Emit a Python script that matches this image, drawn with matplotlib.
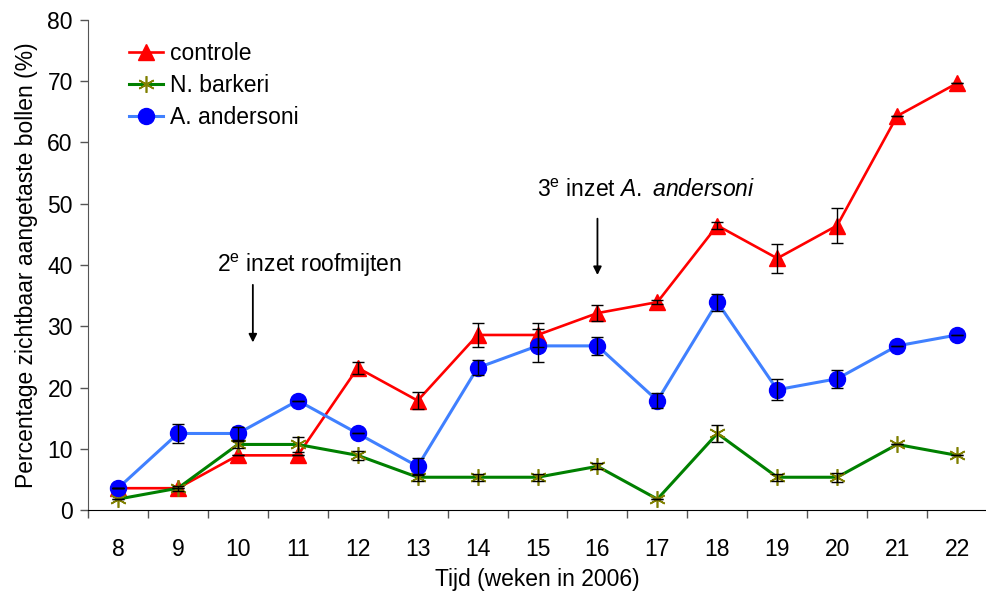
import numpy as np
import matplotlib.pyplot as plt

plt.rcParams['font.family'] = ['Liberation Sans', 'DejaVu Sans']
plt.rcParams['mathtext.fontset'] = 'custom'
plt.rcParams['mathtext.rm'] = 'Liberation Sans'
plt.rcParams['mathtext.it'] = 'Liberation Sans:italic'

# weeks and % visibly affected bulbs
weken = [8, 9, 10, 11, 12, 13, 14, 15, 16, 17, 18, 19, 20, 21, 22]
controle = [3.57, 3.57, 8.93, 8.93, 23.21, 17.86, 28.57, 28.57, 32.14, 33.93, 46.43, 41.07, 46.43, 64.29, 69.64]
controle_err = [0, 0, 0, 0, 1.0, 1.4, 2.0, 2.0, 1.3, 0.3, 0.6, 2.4, 2.9, 0, 0]
barkeri = [1.79, 3.57, 10.71, 10.71, 8.93, 5.36, 5.36, 5.36, 7.14, 1.79, 12.5, 5.36, 5.36, 10.71, 8.93]
barkeri_err = [0, 0.4, 0.6, 1.2, 0.7, 0.6, 0.6, 0.6, 0.5, 0, 1.4, 0.6, 0.7, 0, 0]
andersoni = [3.57, 12.5, 12.5, 17.86, 12.5, 7.14, 23.21, 26.79, 26.79, 17.86, 33.93, 19.64, 21.43, 26.79, 28.57]
andersoni_err = [0, 1.5, 1.1, 0, 0, 1.4, 1.2, 2.7, 1.5, 1.2, 1.4, 1.7, 1.5, 0, 0]

fs = 16.5

fig = plt.figure(figsize=(9.87, 5.98), dpi=100)
ax = fig.add_axes([0.0892, 0.147, 0.9108, 0.82])

ax.plot(weken, controle, color='#ff0000', lw=1.9, marker='^', ms=11.5,
        mfc='#ff0000', mec='#ff0000', label='controle', zorder=3)
ax.errorbar(weken, controle, yerr=controle_err, fmt='none', ecolor='black',
            elinewidth=1, capsize=4, capthick=1, zorder=6)

ax.plot(weken, barkeri, color='#008000', lw=2.2, marker=(6, 2, 0), ms=12,
        mec='#808000', mew=1.2, label='N. barkeri', zorder=4)
ax.errorbar(weken, barkeri, yerr=barkeri_err, fmt='none', ecolor='black',
            elinewidth=1, capsize=4, capthick=1, zorder=6)

ax.plot(weken, andersoni, color='#4080ff', lw=2.2, marker='o', ms=11.5,
        mfc='#0000ff', mec='#0000ff', label='A. andersoni', zorder=5)
ax.errorbar(weken, andersoni, yerr=andersoni_err, fmt='none', ecolor='black',
            elinewidth=1, capsize=4, capthick=1, zorder=6)

ax.set_xlim(7.5, 22.41)
ax.set_ylim(0, 80)
ax.set_yticks(np.arange(0, 81, 10))
ax.set_xticks(weken)
ax.set_xticks(np.arange(7.5, 22.6, 1), minor=True)
ax.tick_params(axis='x', which='major', length=0, labelsize=fs, pad=20)
ax.tick_params(axis='x', which='minor', length=6, width=1, color='#555555')
ax.tick_params(axis='y', length=6, width=1, labelsize=fs, color='#555555', pad=5)
for s in ['top', 'right']:
    ax.spines[s].set_visible(False)
ax.spines['left'].set_color('#555555')
ax.spines['bottom'].set_color('black')

ax.set_xlabel('Tijd (weken in 2006)', fontsize=fs, labelpad=5)
ax.set_ylabel('Percentage zichtbaar aangetaste bollen (%)', fontsize=fs, labelpad=7)

# moments of predator release
ax.text(11.19, 40.0, r'2$^{\mathrm{e}}$ inzet roofmijten', fontsize=fs,
        ha='center', va='center')
ax.annotate('', xy=(10.25, 26.9), xytext=(10.25, 37.2),
            arrowprops=dict(arrowstyle='-|>', color='black', lw=1.3, mutation_scale=12))
ax.text(16.82, 52.2, r'3$^{\mathrm{e}}$ inzet $\mathit{A.\ andersoni}$', fontsize=fs,
        ha='center', va='center')
ax.annotate('', xy=(16.0, 37.9), xytext=(16.0, 48.0),
            arrowprops=dict(arrowstyle='-|>', color='black', lw=1.3, mutation_scale=12))

ax.legend(loc='upper left', bbox_to_anchor=(0.0355, 0.973), frameon=False,
          fontsize=fs, handlelength=1.5, handletextpad=0.3, labelspacing=0.4,
          borderaxespad=0)

fig.savefig('out.png', dpi=100)
